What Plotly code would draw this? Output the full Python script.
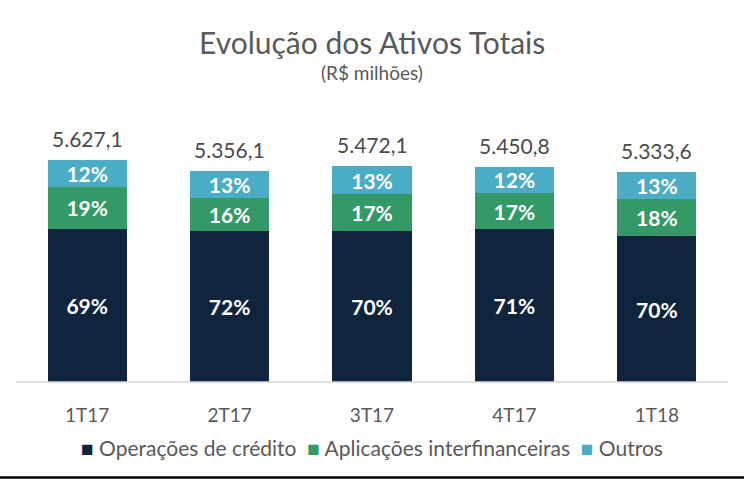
import plotly.graph_objects as go

categories = ["1T17", "2T17", "3T17", "4T17", "1T18"]
totals = [5627.1, 5356.1, 5472.1, 5450.8, 5333.6]
total_labels = ["5.627,1", "5.356,1", "5.472,1", "5.450,8", "5.333,6"]
pct_credito = [69, 72, 70, 71, 70]
pct_aplic = [19, 16, 17, 17, 18]
pct_outros = [12, 13, 13, 12, 13]

series = [
    ("Operações de crédito", pct_credito, "#10243e"),
    ("Aplicações interfinanceiras", pct_aplic, "#339966"),
    ("Outros", pct_outros, "#4bacc6"),
]

FONT = "Lato, Open Sans, sans-serif"

fig = go.Figure()
for name, pcts, color in series:
    vals = [t * p / (a + b + c) for t, p, a, b, c in zip(totals, pcts, pct_credito, pct_aplic, pct_outros)]
    fig.add_trace(go.Bar(
        x=categories, y=vals, name=name,
        marker=dict(color=color, line=dict(width=0)),
        text=[f"{p}%" for p in pcts],
        textposition="inside", insidetextanchor="middle",
        textfont=dict(family=FONT, size=21, color="white", weight="bold"),
        textangle=0,
        hoverinfo="skip",
    ))

for c, t, lab in zip(categories, totals, total_labels):
    fig.add_annotation(x=c, y=t, text=lab, showarrow=False, yanchor="bottom",
                       yshift=7, font=dict(family=FONT, size=21, color="#4a4a4a"))

fig.add_annotation(xref="paper", yref="paper", x=0.5, y=1, yshift=58, text="Evolução dos Ativos Totais",
                   showarrow=False, yanchor="middle", font=dict(family=FONT, size=30, color="#595959"))
fig.add_annotation(xref="paper", yref="paper", x=0.5, y=1, yshift=28, text="(R$ milhões)",
                   showarrow=False, yanchor="middle", font=dict(family=FONT, size=19, color="#595959"))

# legend as a single line of text with coloured squares
legend_text = "".join(
    f"<span style='color:{color}'>■</span> {name}" + ("  " if i < len(series) - 1 else "")
    for i, (name, _, color) in enumerate(series)
)
fig.add_annotation(xref="paper", yref="paper", x=0.5, y=0, yshift=-65, text=legend_text,
                   showarrow=False, yanchor="middle", xanchor="center",
                   font=dict(family=FONT, size=21, color="#595959"))

fig.add_shape(type="line", xref="paper", yref="paper", x0=0, x1=1, y0=0, y1=0,
              line=dict(color="#d9d9d9", width=1.5))
fig.add_shape(type="line", xref="paper", yref="paper", x0=-0.05, x1=1.05, y0=-95.5/282, y1=-95.5/282,
              line=dict(color="black", width=2.5))

fig.update_layout(
    barmode="stack", bargap=0.445,
    width=744, height=479,
    margin=dict(l=16, r=16, t=100, b=97, autoexpand=False),
    paper_bgcolor="white", plot_bgcolor="white",
    showlegend=False,
    xaxis=dict(showline=False, ticks="", tickfont=dict(family=FONT, size=19, color="#595959"),
               ticklabelstandoff=20, automargin=False),
    yaxis=dict(range=[0, 7148], visible=False, showgrid=False, automargin=False),
    uniformtext=dict(mode="show", minsize=21),
)

fig.write_html("out.html", config={"displayModeBar": False},
               post_script="document.body.style.margin='0';document.body.style.overflow='hidden';")
